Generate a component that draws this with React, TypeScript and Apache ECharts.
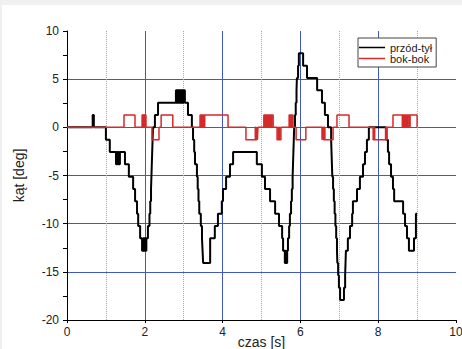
import React, { useEffect, useRef } from "react";
import * as echarts from "echarts";

// przód-tył (front-back) angle, step signal: time [s] and value [deg]
const frontBackTime = [
  0, 0.66, 0.69, 1.0, 1.1, 1.26, 1.28, 1.3, 1.32, 1.34, 1.36, 1.49, 1.59, 1.7, 1.75, 1.8, 1.83, 1.88,
  1.93, 1.96, 1.98, 2.0, 2.02, 2.04, 2.08, 2.12, 2.14, 2.16, 2.17, 2.18, 2.19, 2.2, 2.21, 2.26, 2.34,
  2.8, 2.82, 2.84, 2.86, 2.88, 2.9, 2.92, 2.94, 2.96, 2.98, 3.0, 3.03, 3.11, 3.21, 3.24, 3.27, 3.29,
  3.34, 3.36, 3.38, 3.4, 3.44, 3.47, 3.485, 3.5, 3.68, 3.8, 3.88, 3.98, 4.01, 4.09, 4.19, 4.27,
  4.88, 5.01, 5.09, 5.22, 5.35, 5.45, 5.53, 5.555, 5.6, 5.62, 5.64, 5.66, 5.68, 5.71, 5.73, 5.76,
  5.78, 5.8, 5.81, 5.82, 5.83, 5.84, 5.86, 5.88, 5.9, 5.91, 5.94, 5.96, 6.07, 6.17, 6.43, 6.555,
  6.63, 6.71, 6.79, 6.8, 6.81, 6.82, 6.84, 6.86, 6.88, 6.9, 6.92, 6.94, 6.95, 6.97, 6.99, 7.02,
  7.12, 7.15, 7.16, 7.17, 7.22, 7.275, 7.33, 7.35, 7.455, 7.53, 7.61, 7.66, 7.71, 7.76, 8.2, 8.25,
  8.28, 8.33, 8.38, 8.41, 8.64, 8.69, 8.74, 8.79, 8.92, 8.97, 9.0,
];
const frontBackValue = [
  0, 1.28, 0, -1.28, -2.56, -3.84, -2.56, -3.84, -2.56, -3.84, -2.56, -3.84, -5.12, -6.4, -7.68, -8.96, -10.24, -11.52,
  -12.8, -11.52, -12.8, -11.52, -12.8, -11.52, -10.24, -8.96, -7.68, -6.4, -5.12, -3.84, -2.56, -1.28, 0, 1.28, 2.56,
  3.84, 2.56, 3.84, 2.56, 3.84, 2.56, 3.84, 2.56, 3.84, 2.56, 3.84, 2.56, 1.28, 0, -1.28, -2.56, -3.84,
  -5.12, -6.4, -7.68, -8.96, -10.24, -11.52, -12.8, -14.08, -11.52, -10.24, -8.96, -7.68, -6.4, -5.12, -3.84, -2.56,
  -3.84, -5.12, -6.4, -7.68, -8.96, -10.24, -11.52, -12.8, -14.08, -12.8, -14.08, -12.8, -11.52, -10.24, -8.96, -7.68,
  -6.4, -5.12, -3.84, -2.56, -1.28, 0, 1.28, 2.56, 3.84, 5.12, 6.4, 7.68, 6.4, 5.12, 3.84, 2.56,
  1.28, 0, -1.28, -2.56, -3.84, -5.12, -6.4, -7.68, -8.96, -10.24, -11.52, -12.8, -14.08, -15.36, -16.64, -17.92,
  -16.64, -15.36, -14.08, -12.8, -11.52, -10.24, -8.96, -7.68, -6.4, -5.12, -3.84, -2.56, -1.28, 0, -1.28, -2.56,
  -3.84, -5.12, -6.4, -7.68, -8.96, -10.24, -11.52, -12.8, -11.52, -8.96, -8.96,
];

// bok-bok (side-side) angle, step signal
const sideSideTime = [
  0, 1.465, 1.748, 1.93, 1.95, 1.965, 1.985, 2.0, 2.03, 2.185, 2.365, 2.42, 2.72, 3.42, 3.44, 3.46,
  3.48, 3.5, 3.52, 3.54, 4.14, 4.6, 4.84, 4.86, 4.88, 4.895, 4.91, 5.06, 5.09, 5.11, 5.14, 5.16,
  5.19, 5.21, 5.24, 5.26, 5.3, 5.4, 5.44, 5.46, 5.5, 5.71, 5.73, 5.75, 5.77, 5.79, 5.81, 5.89,
  6.14, 6.555, 6.57, 6.59, 6.61, 6.63, 6.84, 6.94, 7.25, 7.87, 7.89, 7.91, 8.19, 8.21, 8.23, 8.38,
  8.62, 8.64, 8.66, 8.68, 8.7, 8.72, 8.74, 8.76, 8.8, 8.82, 9.0,
];
const sideSideValue = [
  0, 1.28, 0, 1.28, 0, 1.28, 0, 1.28, 0, -1.28, 0, 1.28, 0, 1.28, 0, 1.28,
  0, 1.28, 0, 1.28, 0, -1.28, 0, -1.28, 0, -1.28, 0, 1.28, 0, 1.28, 0, 1.28,
  0, 1.28, 0, 1.28, 0, -1.28, 0, -1.28, 0, 1.28, 0, 1.28, 0, 1.28, 0, -1.28,
  0, -1.28, 0, -1.28, 0, -1.28, 0, 1.28, 0, -1.28, 0, -1.28, 0, -1.28, 0, 1.28,
  0, 1.28, 0, 1.28, 0, 1.28, 0, 1.28, 0, 1.28, 0,
];

const seriesNames = ["przód-tył", "bok-bok"];
const xTitle = "czas [s]";
const yTitle = "kąt [deg]";

const FONT = "'Liberation Sans', Arial, sans-serif";
const BLUE = "#4058c0";
const GREEN = "#8cc850";

export default function App() {
  const ref = useRef<HTMLDivElement>(null);

  useEffect(() => {
    if (!ref.current) return;
    const chart = echarts.init(ref.current, null, { renderer: "svg" });
    const fb = frontBackTime.map((t, i) => [t, frontBackValue[i]]);
    const ss = sideSideTime.map((t, i) => [t, sideSideValue[i]]);
    chart.setOption({
      animation: false,
      backgroundColor: "#ffffff",
      graphic: [
        { type: "rect", left: 0, top: 0, shape: { width: 462, height: 5 }, style: { fill: "#f0f0f0" }, silent: true },
        { type: "rect", left: 0, top: 0, shape: { width: 2, height: 349 }, style: { fill: "#f0f0f0" }, silent: true },
      ],
      grid: { left: 67, right: 6, top: 31, bottom: 29, containLabel: false, outerBoundsMode: "none" },
      legend: {
        orient: "vertical",
        left: 358,
        top: 38,
        itemWidth: 26,
        itemHeight: 1.5,
        itemGap: 0,
        padding: [4, 4, 3, 1],
        backgroundColor: "#ffffff",
        borderColor: "#444444",
        borderWidth: 1,
        borderRadius: 0,
        textStyle: { fontSize: 11, color: "#222", fontFamily: FONT },
        data: seriesNames.map((n) => ({ name: n, icon: "rect" })),
      },
      xAxis: {
        type: "value",
        min: 0,
        max: 10,
        interval: 2,
        name: xTitle,
        nameLocation: "middle",
        nameGap: 15,
        nameMoveOverlap: false,
        nameTextStyle: { fontSize: 14, color: "#222", fontFamily: FONT, verticalAlign: "top" },
        axisLine: { show: true, onZero: false, lineStyle: { color: "#000", width: 1 } },
        axisTick: { show: true, length: 3, lineStyle: { color: "#000" } },
        minorTick: { show: false, splitNumber: 2 },
        axisLabel: { fontSize: 12, color: "#222", fontFamily: FONT, margin: 6 },
        splitLine: { show: true, showMinLine: false, showMaxLine: false, lineStyle: { color: BLUE, width: 1, type: "solid" } },
        minorSplitLine: { show: true, lineStyle: { color: GREEN, width: 1, type: "dotted" } },
      },
      yAxis: {
        type: "value",
        min: -20,
        max: 10,
        interval: 5,
        name: yTitle,
        nameLocation: "middle",
        nameGap: 41,
        nameMoveOverlap: false,
        nameTextStyle: { fontSize: 14, color: "#222", fontFamily: FONT },
        axisLine: { show: true, onZero: false, lineStyle: { color: "#000", width: 1 } },
        axisTick: { show: true, length: 4, lineStyle: { color: "#000" } },
        minorTick: { show: true, splitNumber: 2, length: 4, lineStyle: { color: "#000" } },
        axisLabel: { fontSize: 12, color: "#222", fontFamily: FONT, margin: 8 },
        splitLine: { show: true, showMinLine: false, showMaxLine: false, lineStyle: { color: BLUE, width: 1, type: "solid" } },
      },
      series: [
        {
          name: seriesNames[0],
          type: "line",
          step: "end",
          data: fb,
          showSymbol: false,
          color: "#000000",
          lineStyle: { color: "#000000", width: 2 },
          z: 3,
        },
        {
          name: seriesNames[1],
          type: "line",
          step: "end",
          data: ss,
          showSymbol: false,
          color: "#d42a2a",
          lineStyle: { color: "#d42a2a", width: 1.5 },
          z: 4,
        },
      ],
    });
    return () => chart.dispose();
  }, []);

  return (
    <div
      ref={ref}
      style={{ position: "fixed", left: 0, top: 0, width: 462, height: 349 }}
    />
  );
}
